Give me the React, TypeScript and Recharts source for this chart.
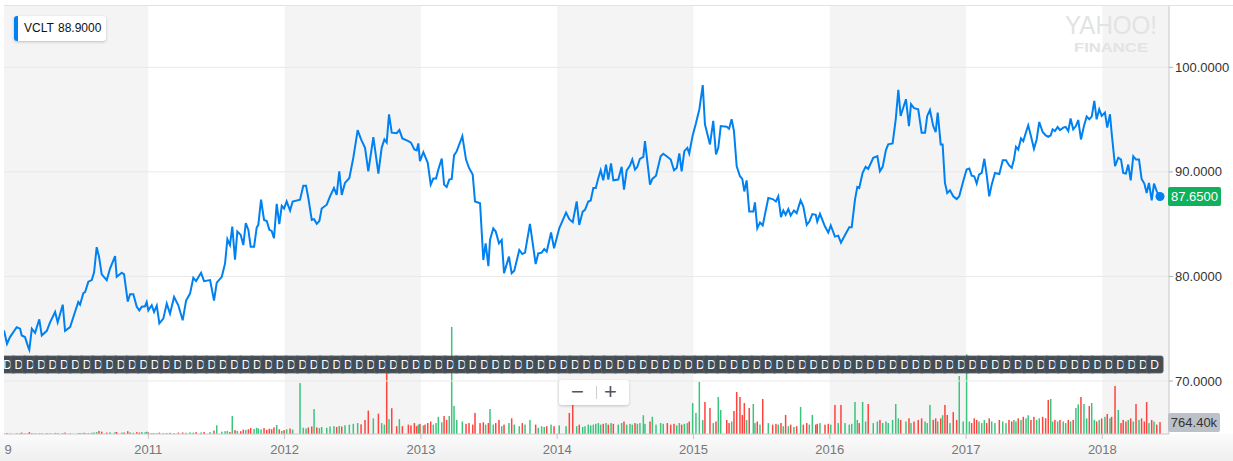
import React from 'react';
import {
  ComposedChart,
  Line,
  Bar,
  Scatter,
  XAxis,
  YAxis,
  ReferenceArea,
  ReferenceLine,
} from 'recharts';

const W = 1233;
const H = 461;
const FONT = '"Liberation Sans", Arial, Helvetica, sans-serif';
const X_MIN = 2009.941;
const X_MAX = 2018.489;
const P_MIN = 64.93;
const P_MAX = 105.96;
const VOL_MAX = 27456; // thousands

const ticker = 'VCLT';
const legendValue = '88.9000';
const lastCloseLabel = '87.6500';
const lastVolumeLabel = '764.40k';

const dates = [
  2009.941, 2009.963, 2009.985, 2010.034, 2010.059, 2010.071, 2010.095, 2010.120, 2010.127, 2010.145,
  2010.169, 2010.200, 2010.218, 2010.255, 2010.279, 2010.316, 2010.335, 2010.372, 2010.389, 2010.426,
  2010.486, 2010.499, 2010.523, 2010.536, 2010.560, 2010.585, 2010.602, 2010.621, 2010.638, 2010.658,
  2010.695, 2010.719, 2010.756, 2010.768, 2010.805, 2010.822, 2010.849, 2010.866, 2010.890, 2010.915,
  2010.934, 2010.952, 2010.976, 2010.988, 2011.000, 2011.025, 2011.042, 2011.062, 2011.081, 2011.110,
  2011.135, 2011.159, 2011.189, 2011.220, 2011.252, 2011.277, 2011.306, 2011.330, 2011.350, 2011.387,
  2011.409, 2011.453, 2011.482, 2011.502, 2011.539, 2011.563, 2011.580, 2011.599, 2011.616, 2011.636,
  2011.653, 2011.678, 2011.697, 2011.715, 2011.734, 2011.751, 2011.776, 2011.795, 2011.807, 2011.827,
  2011.849, 2011.869, 2011.888, 2011.905, 2011.922, 2011.942, 2011.961, 2011.979, 2011.996, 2012.015,
  2012.040, 2012.059, 2012.113, 2012.137, 2012.157, 2012.174, 2012.199, 2012.216, 2012.236, 2012.255,
  2012.272, 2012.309, 2012.333, 2012.362, 2012.382, 2012.401, 2012.419, 2012.443, 2012.475, 2012.504,
  2012.536, 2012.561, 2012.590, 2012.614, 2012.651, 2012.688, 2012.712, 2012.732, 2012.749, 2012.766,
  2012.786, 2012.822, 2012.842, 2012.864, 2012.908, 2012.927, 2012.952, 2012.969, 2012.981, 2012.993,
  2013.018, 2013.030, 2013.050, 2013.072, 2013.091, 2013.111, 2013.128, 2013.153, 2013.170, 2013.189,
  2013.208, 2013.226, 2013.243, 2013.263, 2013.304, 2013.331, 2013.353, 2013.380, 2013.397, 2013.434,
  2013.458, 2013.475, 2013.495, 2013.507, 2013.531, 2013.549, 2013.573, 2013.593, 2013.610, 2013.646,
  2013.666, 2013.685, 2013.722, 2013.744, 2013.764, 2013.800, 2013.842, 2013.861, 2013.886, 2013.905,
  2013.923, 2013.955, 2013.977, 2014.015, 2014.065, 2014.089, 2014.114, 2014.143, 2014.162, 2014.187,
  2014.204, 2014.228, 2014.246, 2014.265, 2014.283, 2014.302, 2014.319, 2014.338, 2014.358, 2014.375,
  2014.395, 2014.412, 2014.448, 2014.473, 2014.490, 2014.510, 2014.534, 2014.551, 2014.571, 2014.588,
  2014.607, 2014.632, 2014.644, 2014.681, 2014.698, 2014.725, 2014.759, 2014.778, 2014.808, 2014.833,
  2014.857, 2014.877, 2014.896, 2014.913, 2014.933, 2014.955, 2014.969, 2014.994, 2015.018, 2015.043,
  2015.068, 2015.084, 2015.121, 2015.145, 2015.165, 2015.182, 2015.200, 2015.244, 2015.261, 2015.280,
  2015.297, 2015.317, 2015.341, 2015.358, 2015.373, 2015.390, 2015.409, 2015.439, 2015.451, 2015.468,
  2015.488, 2015.508, 2015.549, 2015.581, 2015.605, 2015.622, 2015.642, 2015.659, 2015.676, 2015.696,
  2015.713, 2015.737, 2015.757, 2015.786, 2015.806, 2015.831, 2015.850, 2015.872, 2015.897, 2015.908,
  2015.928, 2015.965, 2015.989, 2016.007, 2016.038, 2016.062, 2016.082, 2016.112, 2016.143, 2016.161,
  2016.185, 2016.202, 2016.216, 2016.241, 2016.263, 2016.282, 2016.319, 2016.349, 2016.368, 2016.388,
  2016.412, 2016.429, 2016.461, 2016.484, 2016.503, 2016.520, 2016.559, 2016.581, 2016.596, 2016.618,
  2016.649, 2016.674, 2016.699, 2016.715, 2016.735, 2016.759, 2016.777, 2016.792, 2016.814, 2016.828,
  2016.845, 2016.862, 2016.882, 2016.906, 2016.931, 2016.950, 2016.979, 2017.004, 2017.024, 2017.041,
  2017.060, 2017.078, 2017.095, 2017.115, 2017.134, 2017.151, 2017.170, 2017.188, 2017.212, 2017.244,
  2017.269, 2017.293, 2017.315, 2017.335, 2017.351, 2017.366, 2017.383, 2017.403, 2017.420, 2017.440,
  2017.456, 2017.476, 2017.498, 2017.518, 2017.537, 2017.562, 2017.584, 2017.603, 2017.621, 2017.635,
  2017.652, 2017.672, 2017.689, 2017.713, 2017.731, 2017.750, 2017.767, 2017.786, 2017.806, 2017.823,
  2017.843, 2017.865, 2017.885, 2017.904, 2017.922, 2017.941, 2017.958, 2017.977, 2017.995, 2018.019,
  2018.036, 2018.056, 2018.068, 2018.093, 2018.117, 2018.137, 2018.153, 2018.173, 2018.190, 2018.208,
  2018.227, 2018.247, 2018.269, 2018.288, 2018.308, 2018.325, 2018.342, 2018.362, 2018.379, 2018.399,
  2018.423,
];

const closes = [
  74.84, 73.56, 74.2, 75.15, 75.0, 74.35, 74.2, 73.2, 72.98, 75.0,
  74.6, 75.9, 74.35, 74.8, 75.6, 76.6, 75.6, 77.3, 74.8, 75.15,
  77.55, 77.3, 78.4, 78.5, 79.5, 79.65, 80.4, 82.8, 81.9, 80.2,
  79.65, 80.75, 81.95, 79.96, 80.35, 80.2, 77.6, 78.3, 78.3, 77.1,
  76.75, 77.1, 77.15, 77.55, 76.75, 77.25, 76.6, 77.2, 75.5, 75.96,
  77.4, 76.44, 78.04, 77.24, 75.8, 77.7, 78.36, 79.87, 79.55, 80.35,
  79.55, 79.65, 77.7, 79.4, 79.96, 81.25, 83.56, 83.0, 84.77, 81.6,
  84.3, 83.97, 83.0, 85.1, 84.45, 82.85, 82.85, 84.67, 84.93, 87.34,
  85.4, 85.3, 84.45, 84.35, 83.65, 86.95, 85.0, 86.76, 86.5, 87.17,
  86.3, 87.17, 87.34, 88.68, 88.68, 87.5, 85.4, 85.48, 85.03, 85.3,
  86.5, 86.86, 87.66, 88.46, 87.8, 90.06, 87.8, 88.94, 89.42, 91.35,
  94.0, 93.1, 92.3, 90.06, 93.33, 89.84, 92.3, 93.1, 92.8, 95.5,
  93.75, 93.7, 94.0, 93.2, 92.95, 92.8, 92.14, 92.05, 92.72, 91.02,
  91.88, 91.5, 90.86, 88.78, 89.36, 89.36, 90.22, 91.28, 88.78, 88.56,
  89.26, 89.33, 91.57, 91.98, 93.42, 91.18, 90.38, 89.74, 87.17, 87.0,
  81.57, 83.17, 80.99, 83.49, 84.6, 84.29, 83.17, 83.49, 80.3, 81.9,
  80.3, 80.54, 82.53, 82.14, 82.27, 85.03, 81.18, 82.2, 82.27, 82.62,
  82.37, 84.2, 82.7, 84.6, 86.1, 85.48, 85.19, 87.17, 84.93, 86.2,
  86.37, 87.17, 87.27, 88.46, 88.46, 89.42, 90.15, 89.19, 90.7, 89.26,
  90.8, 89.19, 89.26, 90.48, 88.3, 90.15, 90.6, 91.18, 90.22, 90.48,
  91.25, 91.44, 92.94, 88.78, 89.33, 89.64, 91.5, 91.73, 91.44, 91.18,
  90.15, 90.38, 91.76, 90.06, 91.98, 92.3, 91.76, 93.49, 94.64, 95.99,
  98.3, 94.55, 92.62, 94.87, 91.66, 92.3, 94.38, 94.32, 94.13, 95.03,
  93.9, 90.54, 89.58, 89.33, 88.13, 89.19, 86.2, 86.2, 87.08, 84.6,
  85.15, 84.87, 87.5, 87.4, 87.17, 87.66, 85.67, 86.31, 85.9, 86.44,
  85.83, 86.31, 86.06, 87.27, 86.69, 84.93, 85.25, 85.96, 85.9, 85.25,
  85.99, 84.77, 84.19, 84.87, 83.81, 83.9, 83.23, 83.97, 84.71, 84.71,
  87.34, 88.56, 88.46, 89.9, 90.48, 90.29, 91.35, 91.5, 90.06, 90.48,
  92.08, 92.63, 92.72, 95.03, 97.85, 95.35, 96.95, 94.38, 96.47, 96.09,
  95.99, 93.75, 93.75, 95.35, 95.92, 94.38, 93.81, 95.67, 92.63, 92.63,
  88.94, 87.98, 88.23, 87.66, 87.4, 87.66, 89.1, 90.22, 90.32, 89.64,
  89.58, 88.88, 89.74, 89.9, 91.25, 89.74, 87.66, 88.78, 89.9, 89.8,
  91.12, 91.12, 90.64, 90.38, 91.18, 92.4, 92.14, 93.2, 92.94, 93.81,
  94.45, 93.42, 92.21, 93.1, 94.77, 93.81, 93.49, 93.36, 93.49, 94.07,
  93.9, 94.29, 94.0, 94.23, 94.29, 93.9, 95.1, 94.07, 94.38, 94.96,
  93.1, 94.38, 95.29, 95.03, 95.29, 96.79, 95.03, 95.99, 95.35, 95.67,
  94.23, 95.51, 93.75, 90.54, 91.35, 91.18, 89.9, 89.84, 90.7, 89.19,
  91.5, 91.18, 91.18, 89.33, 88.88, 87.98, 88.94, 87.27, 88.88, 88.13,
  87.65,
];

// volume in thousands of shares
const volumes = [
  40, 60, 30, 50, 40, 90, 30, 40, 120, 60,
  40, 50, 30, 60, 40, 70, 50, 60, 90, 40,
  50, 60, 80, 70, 60, 80, 100, 120, 200, 150,
  90, 110, 120, 130, 90, 100, 180, 110, 80, 120,
  90, 130, 110, 150, 100, 60, 50, 40, 90, 60,
  70, 80, 60, 90, 100, 80, 110, 90, 120, 100,
  130, 120, 220, 560, 150, 180, 200, 130, 1150, 250,
  200, 180, 280, 260, 300, 380, 320, 400, 350, 300,
  380, 260, 340, 300, 420, 580, 300, 200, 250, 300,
  350, 280, 3260, 400, 350, 420, 480, 1600, 420, 380,
  450, 400, 480, 500, 450, 520, 480, 560, 600, 650,
  700, 620, 900, 1500, 1000, 1300, 700, 600, 4800, 950,
  1650, 500, 950, 500, 600, 550, 700, 500, 600, 650,
  550, 600, 700, 800, 600, 700, 1100, 750, 1150, 900,
  1150, 6850, 1800, 900, 800, 650, 700, 600, 1350, 700,
  750, 600, 700, 1600, 600, 700, 900, 500, 600, 700,
  1000, 600, 500, 700, 600, 900, 600, 400, 500, 450,
  500, 600, 500, 550, 500, 1350, 1850, 500, 600, 450,
  500, 600, 550, 600, 650, 700, 600, 650, 700, 600,
  700, 650, 600, 700, 800, 600, 650, 600, 700, 650,
  700, 1200, 650, 800, 1100, 600, 700, 650, 700, 600,
  650, 550, 700, 600, 650, 700, 800, 1980, 1350, 3330,
  900, 2050, 1660, 700, 800, 2370, 1540, 900, 700, 800,
  1470, 2690, 2370, 1220, 1980, 900, 1660, 1920, 700, 800,
  600, 2240, 700, 600, 650, 600, 700, 500, 1220, 500,
  600, 450, 500, 1730, 600, 700, 600, 1220, 600, 650,
  700, 600, 650, 600, 1860, 700, 1860, 700, 600, 650,
  2050, 900, 700, 2050, 800, 1920, 700, 800, 900, 700,
  800, 700, 900, 1920, 1000, 900, 800, 1000, 700, 800,
  900, 1000, 800, 700, 1860, 900, 1000, 800, 1000, 1200,
  1860, 1220, 700, 1400, 900, 3710, 800, 5100, 800, 700,
  1000, 900, 800, 700, 900, 700, 1000, 800, 700, 900,
  800, 700, 900, 800, 900, 800, 1000, 900, 1100, 1000,
  1200, 900, 1100, 900, 1000, 1100, 1000, 2180, 2240, 800,
  900, 800, 900, 800, 700, 900, 800, 900, 1660, 1900,
  2370, 1920, 1000, 1790, 1980, 900, 800, 900, 1000, 1100,
  1280, 1000, 1100, 3070, 1540, 700, 900, 800, 900, 1000,
  800, 1920, 900, 1000, 800, 2050, 700, 900, 800, 600,
  764,
];

const priceTicks = [70, 80, 90, 100];
const yearTicks = [2009.971, 2011, 2012, 2013, 2014, 2015, 2016, 2017, 2018];
const yearTickLabels = ['9', '2011', '2012', '2013', '2014', '2015', '2016', '2017', '2018'];
const shadedSpans: [number, number][] = [
  [X_MIN, 2011],
  [2012, 2013],
  [2014, 2015],
  [2016, 2017],
  [2018, X_MAX],
];

// monthly dividend event markers ("D")
const dividendData: { t: number; lane: number }[] = [];
for (let y = 2009; y <= 2018; y++) {
  for (let m = 0; m < 12; m++) {
    const t = y + m / 12 + 0.05;
    if (t >= 2009.95 && t <= 2018.43) dividendData.push({ t, lane: 0.5 });
  }
}

const chartData = dates.map((t, i) => ({
  t,
  close: closes[i],
  volume: volumes[i],
  up: i === 0 ? true : closes[i] >= closes[i - 1],
}));

const LINE_BLUE = '#0081f2';
const UP_GREEN = '#3cc47e';
const DOWN_RED = '#ff433d';

const YearTick = (props: any) => {
  const { x, payload } = props;
  const i = yearTicks.indexOf(payload.value);
  const label = i >= 0 ? yearTickLabels[i] : '';
  return (
    <g>
      {i > 0 && <line x1={x} x2={x} y1={434} y2={439} stroke="#c6c6c6" />}
      <text x={x} y={454} textAnchor="middle" fontSize={13} fill="#777" fontFamily={FONT}>
        {label}
      </text>
    </g>
  );
};

const VolumeBar = (props: any) => {
  const { x, y, width, height, index } = props;
  if (x == null || !height || height <= 0) return <g />;
  const d = chartData[index];
  const cx = x + (width || 0) / 2;
  return <rect x={cx - 0.75} y={y} width={1.5} height={height} fill={d && d.up ? UP_GREEN : DOWN_RED} />;
};

const DivMarker = (props: any) => {
  const { cx } = props;
  if (cx == null || isNaN(cx)) return <g />;
  return (
    <g>
      <rect x={cx - 8} y={356} width={16.5} height={17} rx={2} fill="#444c54" stroke="#58606a" strokeWidth={0.8} />
      <text x={cx} y={369} textAnchor="middle" fontSize={12} fill="#ffffff" fontFamily={FONT}>
        D
      </text>
    </g>
  );
};

const EndDot = (props: any) => {
  const { cx, cy, index } = props;
  if (index !== closes.length - 1) return <g key={`d${index}`} />;
  return <circle key="end" cx={cx} cy={cy} r={4.5} fill={LINE_BLUE} />;
};

export default function App() {
  return (
    <div
      style={{
        position: 'absolute',
        left: 0,
        top: 0,
        width: W,
        height: H,
        background: '#ffffff',
        overflow: 'hidden',
        fontFamily: FONT,
      }}
    >
      <div
        style={{
          position: 'absolute',
          left: 0,
          top: 434,
          width: W,
          height: H - 434,
          background: 'linear-gradient(#fbfbfb, #efefef)',
        }}
      />
      <ComposedChart
        width={W}
        height={H}
        data={chartData}
        margin={{ top: 5, right: 0, bottom: 0, left: 4 }}
      >
        {shadedSpans.map(([a, b], i) => (
          <ReferenceArea
            key={`band${i}`}
            yAxisId="price"
            x1={a}
            x2={b}
            fill="#f4f4f4"
            fillOpacity={1}
            strokeOpacity={0}
            ifOverflow="hidden"
          />
        ))}
        {priceTicks.map((v) => (
          <ReferenceLine key={`g${v}`} yAxisId="price" y={v} stroke="#e8e8e8" strokeWidth={1} />
        ))}
        <XAxis
          dataKey="t"
          type="number"
          domain={[X_MIN, X_MAX]}
          allowDataOverflow
          ticks={yearTicks}
          interval={0}
          tick={<YearTick />}
          tickLine={false}
          axisLine={{ stroke: '#c8c8c8' }}
          height={27}
        />
        <YAxis
          yAxisId="price"
          orientation="right"
          domain={[P_MIN, P_MAX]}
          allowDataOverflow
          ticks={priceTicks}
          tickFormatter={(v: number) => v.toFixed(4)}
          width={64}
          axisLine={{ stroke: '#c8c8c8' }}
          tickLine={{ stroke: '#b0b0b0' }}
          tickSize={4}
          tick={{ fill: '#333', fontSize: 13, fontFamily: FONT }}
        />
        <YAxis yAxisId="vol" hide domain={[0, VOL_MAX]} allowDataOverflow />
        <YAxis yAxisId="evt" hide domain={[0, 1]} />
        <Bar dataKey="volume" yAxisId="vol" barSize={2} shape={VolumeBar} isAnimationActive={false} />
        <Line
          dataKey="close"
          yAxisId="price"
          type="linear"
          stroke={LINE_BLUE}
          strokeWidth={2}
          dot={EndDot}
          activeDot={false}
          isAnimationActive={false}
        />
        <Scatter
          data={dividendData}
          dataKey="lane"
          yAxisId="evt"
          shape={DivMarker}
          isAnimationActive={false}
        />
      </ComposedChart>

      {/* top border */}
      <div style={{ position: 'absolute', left: 4, top: 5, width: W - 4, height: 1, background: '#e2e2e2' }} />

      {/* legend */}
      <div
        style={{
          position: 'absolute',
          left: 14,
          top: 16,
          width: 92,
          height: 25,
          background: '#fff',
          borderRadius: 3,
          boxShadow: '0 1px 3px rgba(0,0,0,0.22)',
          overflow: 'hidden',
        }}
      >
        <div style={{ position: 'absolute', left: 0, top: 0, width: 4, height: 25, background: LINE_BLUE }} />
        <span style={{ position: 'absolute', left: 10, top: 5, fontSize: 12, color: '#111', lineHeight: '15px' }}>
          {ticker}
        </span>
        <span style={{ position: 'absolute', left: 44, top: 5, fontSize: 12, color: '#111', lineHeight: '15px' }}>
          {legendValue}
        </span>
      </div>

      {/* watermark */}
      <svg width={W} height={H} style={{ position: 'absolute', left: 0, top: 0, pointerEvents: 'none' }}>
        <text
          x={1065}
          y={34}
          fontSize={26}
          fontFamily={FONT}
          fill="#e3e3e3"
          textLength={92}
          lengthAdjust="spacingAndGlyphs"
        >
          YAHOO!
        </text>
        <text
          x={1074}
          y={51.5}
          fontSize={13}
          fontWeight="bold"
          fontFamily={FONT}
          fill="#e3e3e3"
          textLength={74}
          lengthAdjust="spacingAndGlyphs"
        >
          FINANCE
        </text>
      </svg>

      {/* zoom buttons */}
      <div
        style={{
          position: 'absolute',
          left: 559,
          top: 380,
          width: 70,
          height: 25,
          background: '#fff',
          borderRadius: 3,
          boxShadow: '0 1px 3px rgba(0,0,0,0.2)',
        }}
      >
        <span style={{ position: 'absolute', left: 10, top: 0, width: 17, textAlign: 'center', fontSize: 22, lineHeight: '24px', color: '#555' }}>
          −
        </span>
        <div style={{ position: 'absolute', left: 37, top: 6, width: 1, height: 13, background: '#cfcfcf' }} />
        <span style={{ position: 'absolute', left: 43, top: 0, width: 17, textAlign: 'center', fontSize: 22, lineHeight: '24px', color: '#555' }}>
          +
        </span>
      </div>

      {/* last close label */}
      <div
        style={{
          position: 'absolute',
          left: 1168,
          top: 187,
          width: 53,
          height: 19,
          background: '#0fb15c',
          borderRadius: 2,
          color: '#fff',
          fontSize: 13,
          lineHeight: '19px',
          textAlign: 'center',
        }}
      >
        {lastCloseLabel}
      </div>

      {/* last volume label */}
      <div
        style={{
          position: 'absolute',
          left: 1168,
          top: 413,
          width: 52,
          height: 19,
          background: '#bcc0c7',
          borderRadius: 2,
          color: '#333',
          fontSize: 13,
          lineHeight: '19px',
          textAlign: 'center',
        }}
      >
        {lastVolumeLabel}
      </div>
    </div>
  );
}
